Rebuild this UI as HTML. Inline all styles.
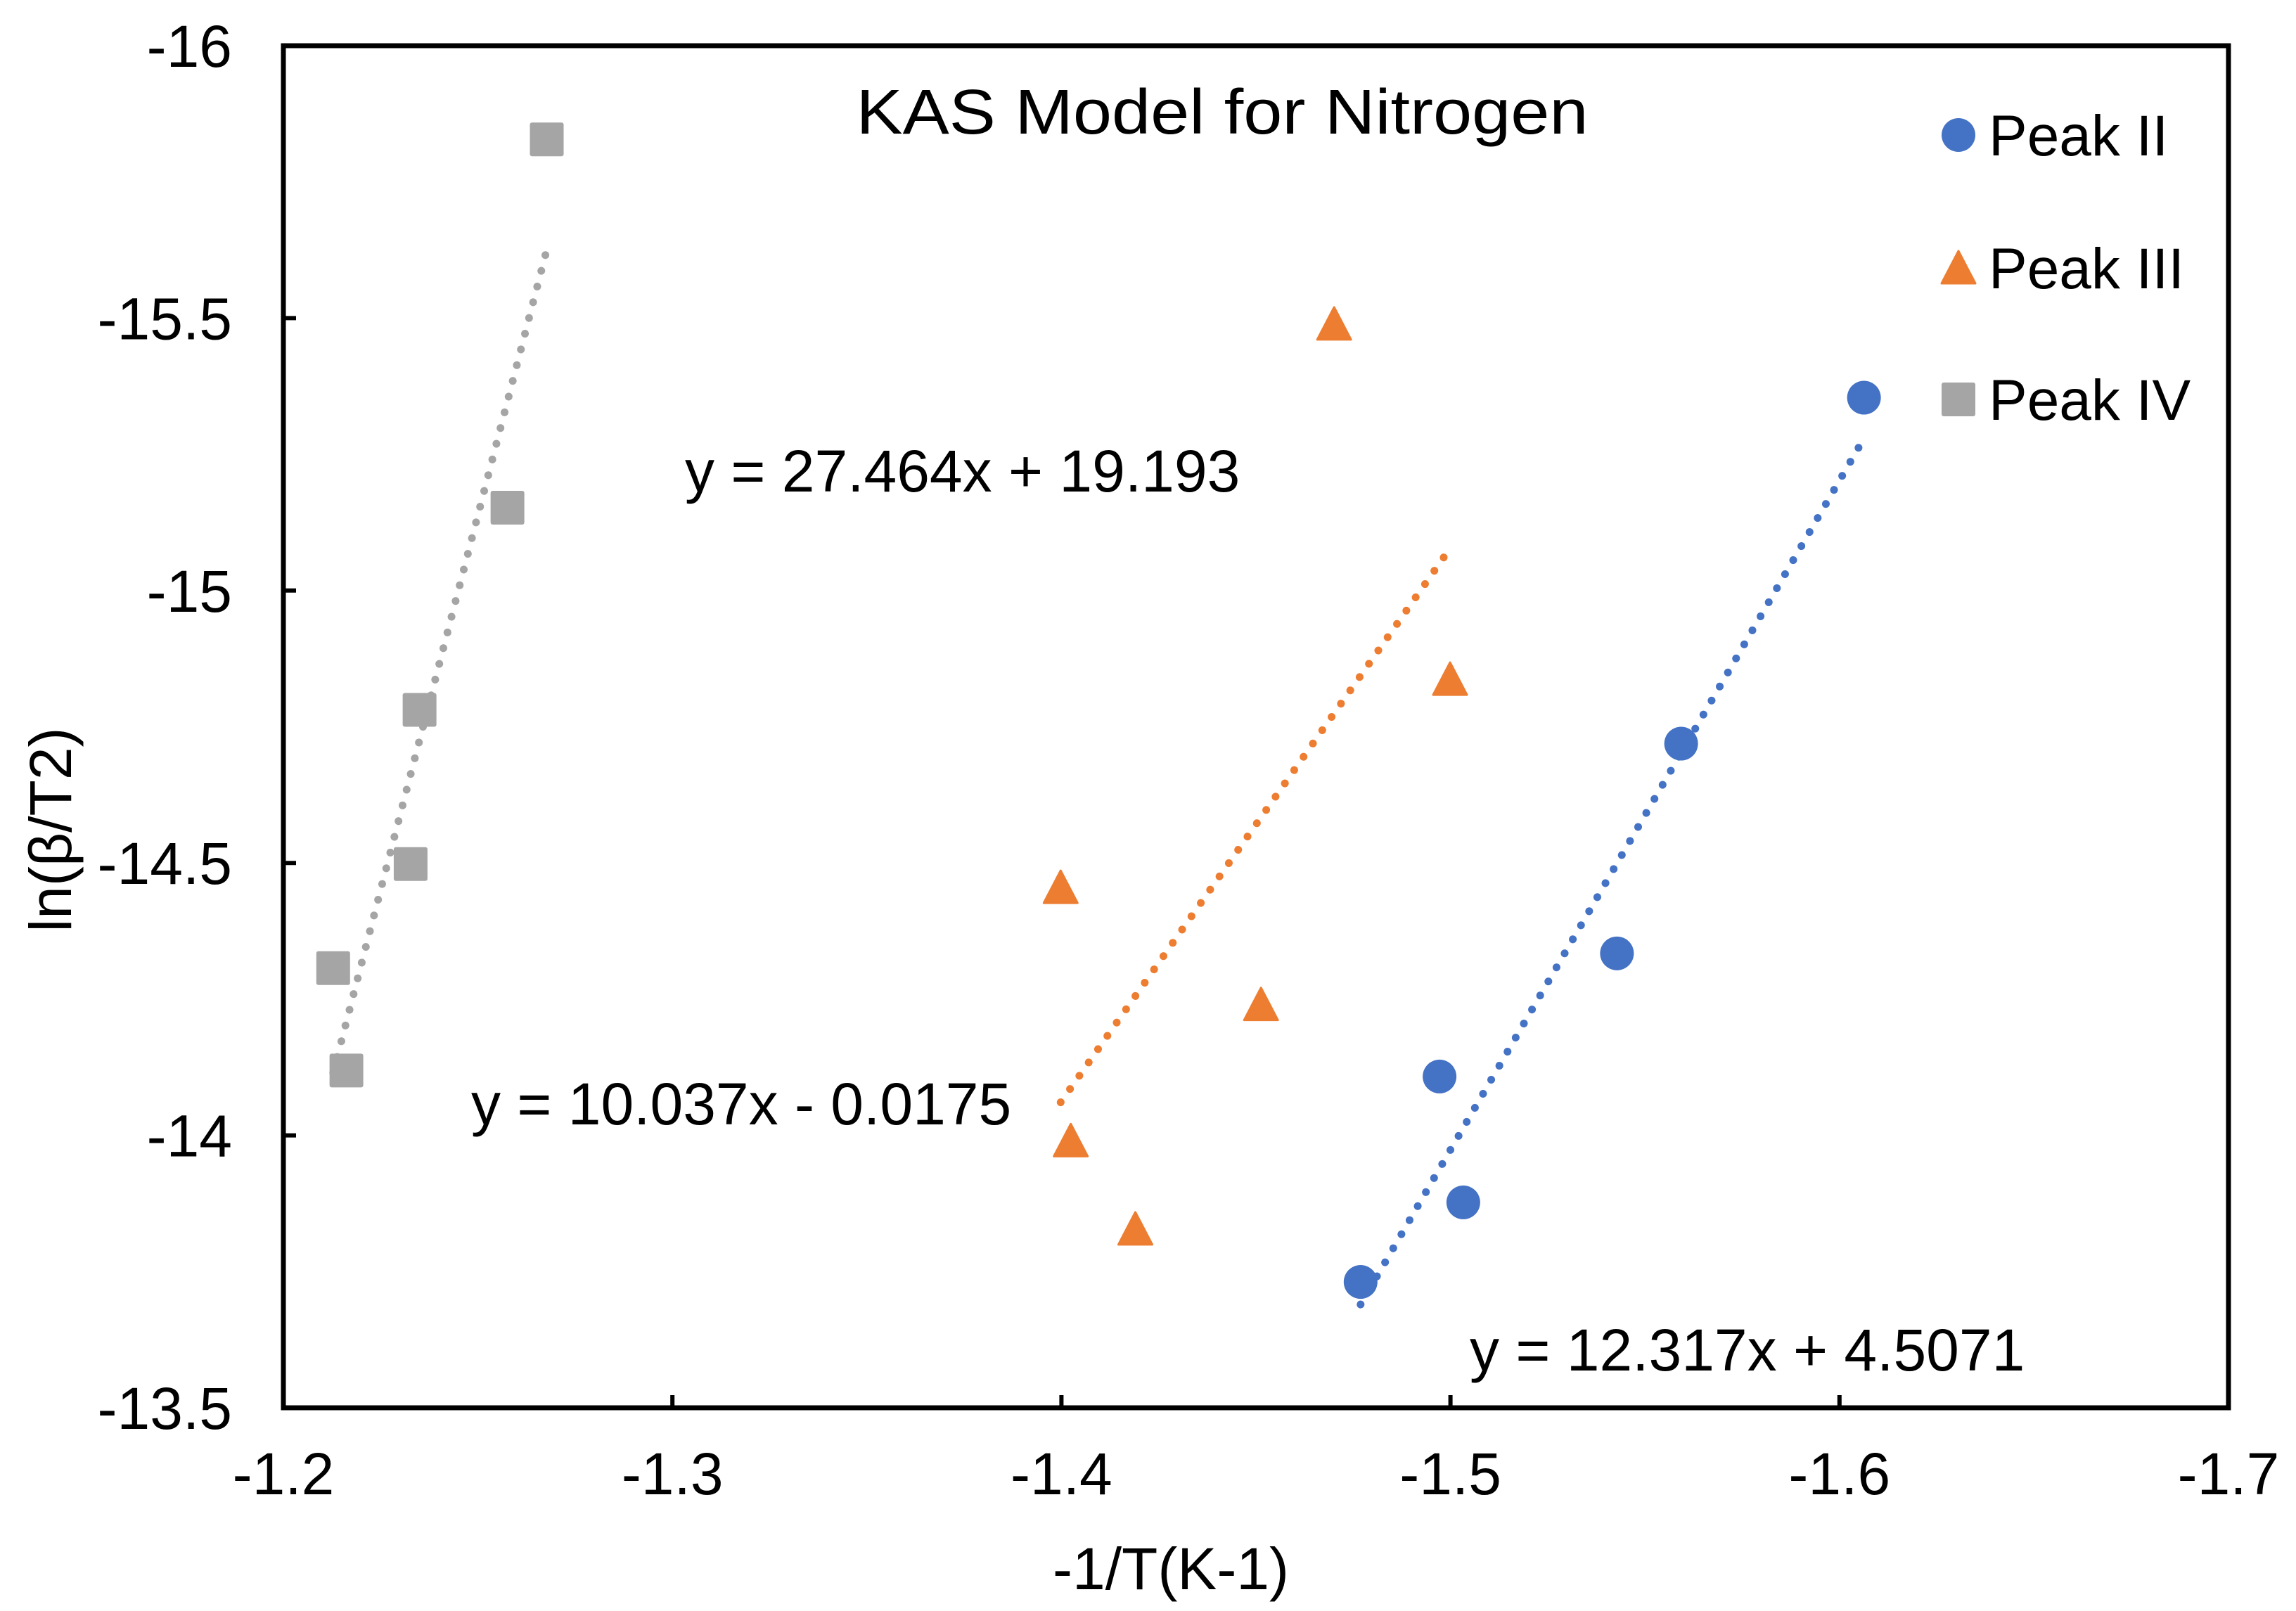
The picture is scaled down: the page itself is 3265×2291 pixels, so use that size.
<!DOCTYPE html>
<html><head><meta charset="utf-8"><style>
html,body{margin:0;padding:0;background:#fff}
svg{display:block}
text{font-family:"Liberation Sans",Arial,sans-serif;fill:#000}
</style></head><body>
<svg id="chart" width="3265" height="2291" viewBox="0 0 3265 2291">
<rect x="0" y="0" width="3265" height="2291" fill="#fff"/>
<g id="plot"></g>
</svg>
<script>
const xTicks = [-1.2, -1.3, -1.4, -1.5, -1.6, -1.7];
const xTickLabels = ["-1.2", "-1.3", "-1.4", "-1.5", "-1.6", "-1.7"];
const yTicks = [-16, -15.5, -15, -14.5, -14, -13.5];
const yTickLabels = ["-16", "-15.5", "-15", "-14.5", "-14", "-13.5"];
const peak2X = [-1.6063, -1.5593, -1.5428, -1.4972, -1.5033, -1.4769];
const peak2Y = [-15.354, -14.719, -14.334, -14.108, -13.877, -13.731];
const peak3X = [-1.4701, -1.4999, -1.3998, -1.4513, -1.4024, -1.4190];
const peak3Y = [-15.489, -14.837, -14.455, -14.240, -13.990, -13.828];
const peak4X = [-1.2677, -1.2576, -1.2350, -1.2327, -1.2128, -1.2162];
const peak4Y = [-15.828, -15.152, -14.781, -14.498, -14.307, -14.119];
const seriesNames = ["Peak II", "Peak III", "Peak IV"];
const equations = ["y = 12.317x + 4.5071", "y = 10.037x - 0.0175", "y = 27.464x + 19.193"];

const NS = "http://www.w3.org/2000/svg";
const L = 403, R = 3169, T = 65, B = 2002;
const xMin = -1.2, xMax = -1.7, yMin = -16, yMax = -13.5;
function sx(v){ return L + (v - xMin) / (xMax - xMin) * (R - L); }
function sy(v){ return T + (v - yMin) / (yMax - yMin) * (B - T); }
const g = document.getElementById('plot');
function mk(tag, attrs, parent){
  const e = document.createElementNS(NS, tag);
  for (const k in attrs) e.setAttribute(k, attrs[k]);
  (parent || g).appendChild(e);
  return e;
}

const frame = mk('rect', {x:L, y:T, width:R-L, height:B-T, fill:'none', stroke:'#000', 'stroke-width':7});



xTicks.forEach((v, i) => {
  const x = sx(v);
  const t = mk('line', {x1:x, x2:x, y1:B, y2:B-18, stroke:'#000', 'stroke-width':6});
  
  
  const lb = mk('text', {x:x, y:2125, 'font-size':84, 'text-anchor':'middle'});
  lb.textContent = xTickLabels[i];
  
  
});
yTicks.forEach((v, i) => {
  const y = sy(v);
  const t = mk('line', {x1:L, x2:L+18, y1:y, y2:y, stroke:'#000', 'stroke-width':6});
  
  
  const lb = mk('text', {x:330, y:y+30, 'font-size':84, 'text-anchor':'end'});
  lb.textContent = yTickLabels[i];
  
  
});

const title = mk('text', {x:1738, y:190, 'font-size':90, 'text-anchor':'middle', textLength:1041, lengthAdjust:'spacingAndGlyphs'});
title.textContent = 'KAS Model for Nitrogen';


const xt = mk('text', {x:1665, y:2260, 'font-size':84, 'text-anchor':'middle'});
xt.textContent = '-1/T(K-1)';


const yt = mk('text', {x:0, y:0, 'font-size':84, 'text-anchor':'middle', transform:'translate(101,1180) rotate(-90)'});
yt.textContent = 'ln(β/T2)';



function fit(xs, ys){
  const n = xs.length; let mx=0,my=0;
  for (let i=0;i<n;i++){mx+=xs[i];my+=ys[i];}
  mx/=n; my/=n; let sxy=0,sxx=0;
  for (let i=0;i<n;i++){sxy+=(xs[i]-mx)*(ys[i]-my); sxx+=(xs[i]-mx)**2;}
  const m = sxy/sxx; return {m:m, b:my-m*mx};
}
function trend(xs, ys, color, name){
  const f = fit(xs, ys);
  const a = Math.max(...xs), z = Math.min(...xs);
  const ln = mk('line', {x1:sx(a), y1:sy(f.m*a+f.b), x2:sx(z), y2:sy(f.m*z+f.b), stroke:color, 'stroke-width':11, 'stroke-dasharray':'0.1 23', 'stroke-linecap':'round'});
  
  
}
function marker(shape, cx, cy, color, name){
  let e;
  if (shape === 'circle') e = mk('circle', {cx:cx, cy:cy, r:24, fill:color});
  else if (shape === 'square') e = mk('rect', {x:cx-24, y:cy-24, width:48, height:48, rx:3, fill:color});
  else e = mk('polygon', {points:`${cx},${cy-24} ${cx+24},${cy+22} ${cx-24},${cy+22}`, fill:color, 'stroke':color, 'stroke-width':3, 'stroke-linejoin':'round'});
  
  
}

const blue = '#4472C4', orange = '#ED7D31', grey = '#A5A5A5';
trend(peak2X, peak2Y, blue, 'trendline-peak-ii');
trend(peak3X, peak3Y, orange, 'trendline-peak-iii');
trend(peak4X, peak4Y, grey, 'trendline-peak-iv');
peak2X.forEach((v,i)=>marker('circle', sx(v), sy(peak2Y[i]), blue, 'point-peak-ii'));
peak3X.forEach((v,i)=>marker('triangle', sx(v), sy(peak3Y[i]), orange, 'point-peak-iii'));
peak4X.forEach((v,i)=>marker('square', sx(v), sy(peak4Y[i]), grey, 'point-peak-iv'));

const eqPos = [[2090,1949],[670,1599],[974,699]];
equations.forEach((s,i)=>{
  const t = mk('text', {x:eqPos[i][0], y:eqPos[i][1], 'font-size':84});
  t.textContent = s;
  
  
});

const legShapes = ['circle','triangle','square'], legColors = [blue, orange, grey], legY = [221, 410, 597];
seriesNames.forEach((s,i)=>{
  marker(legShapes[i], 2785, legY[i]-29, legColors[i], 'legend-marker');
  const t = mk('text', {x:2828, y:legY[i], 'font-size':82});
  t.textContent = s;
  
  
});
</script>
</body></html>
